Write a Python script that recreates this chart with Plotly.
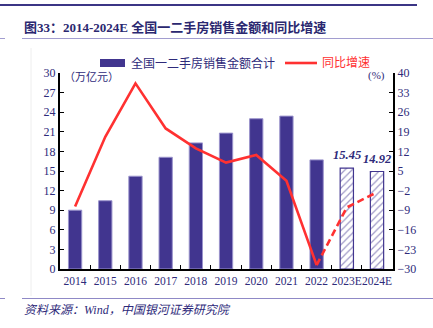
import plotly.graph_objects as go

# Data
years = ["2014", "2015", "2016", "2017", "2018", "2019", "2020", "2021", "2022", "2023E", "2024E"]
sales_amount = [9.0, 10.45, 14.2, 17.1, 19.3, 20.8, 23.0, 23.4, 16.7, 15.45, 14.92]  # 万亿元
yoy_growth = [-7.7, 17.2, 36.3, 20.2, 13.1, 8.0, 10.7, 1.5, -28.6, -8.0, -2.6]       # %
n_actual = 9  # 2014-2022 actual, the rest are estimates

left_ticks = list(range(0, 31, 3))
right_ticks = list(range(-30, 41, 7))

W, H = 433, 328
ML, MR, MT, MB = 60, 40, 73, 59
PW, PH = W - ML - MR, H - MT - MB

NAVY = "#41358f"
TEXT = "#2e2a7a"
RED = "#ff3131"
SERIF = "Times New Roman, Liberation Serif, Noto Sans CJK SC"


def px(x):
    return (x - ML) / PW


def py(y):
    return (H - MB - y) / PH


fig = go.Figure()

# Bars: solid for actual years, hatched for estimates
fig.add_trace(go.Bar(
    x=years[:n_actual], y=sales_amount[:n_actual],
    marker=dict(color=NAVY, line=dict(color="#9a93cc", width=1)),
    width=0.44, showlegend=False,
))
fig.add_trace(go.Bar(
    x=years[n_actual:], y=sales_amount[n_actual:],
    marker=dict(color="white", line=dict(color=NAVY, width=1.2),
                pattern=dict(shape="/", fgcolor=NAVY, bgcolor="white", size=5, solidity=0.25)),
    width=0.44, showlegend=False,
))

# Growth line: solid for actual, dashed for estimate
fig.add_trace(go.Scatter(
    x=years[:n_actual], y=yoy_growth[:n_actual], yaxis="y2", mode="lines",
    line=dict(color=RED, width=2.6), showlegend=False,
))
fig.add_trace(go.Scatter(
    x=years[n_actual - 1:], y=yoy_growth[n_actual - 1:], yaxis="y2", mode="lines",
    line=dict(color=RED, width=2.6, dash="7px,4px"), showlegend=False,
))

axis_font = dict(family=SERIF, size=12, color=TEXT)
fig.update_layout(
    width=W, height=H,
    margin=dict(l=ML, r=MR, t=MT, b=MB),
    paper_bgcolor="white", plot_bgcolor="white",
    bargap=0.5,
    xaxis=dict(type="category", showgrid=False, showline=True, linecolor="black", linewidth=2,
               ticks="inside", ticklen=4, tickcolor="black", tickson="boundaries",
               tickangle=0, tickfont=dict(family=SERIF, size=11.5, color=TEXT)),
    yaxis=dict(range=[0, 30], tickvals=left_ticks, showgrid=False, zeroline=False,
               showline=True, linecolor="black", linewidth=2, ticks="inside", ticklen=4,
               tickcolor="black", tickfont=axis_font),
    yaxis2=dict(range=[-30, 40], tickvals=right_ticks, overlaying="y", side="right",
                showgrid=False, zeroline=False, showline=True, linecolor="black", linewidth=2,
                ticks="inside", ticklen=4, tickcolor="black", tickfont=axis_font,
                ticktext=[str(v).replace("-", "−") for v in right_ticks]),
    font=dict(family=SERIF, color=TEXT),
)

shapes = [
    # header rule
    dict(type="line", xref="paper", yref="paper", x0=px(0), x1=px(417), y0=py(5), y1=py(5),
         line=dict(color="#3b3585", width=2)),
    # rule under title
    dict(type="line", xref="paper", yref="paper", x0=px(22), x1=px(433), y0=py(38.5), y1=py(38.5),
         line=dict(color="#a29dd0", width=1)),
    dict(type="line", xref="paper", yref="paper", x0=px(0), x1=px(5), y0=py(38.5), y1=py(38.5),
         line=dict(color="#a29dd0", width=1)),
    # rule above source
    dict(type="line", xref="paper", yref="paper", x0=px(22), x1=px(433), y0=py(298.5), y1=py(298.5),
         line=dict(color="#8f89c6", width=1)),
    dict(type="line", xref="paper", yref="paper", x0=px(0), x1=px(5), y0=py(298.5), y1=py(298.5),
         line=dict(color="#8f89c6", width=1)),
    # faint frame line
    dict(type="line", xref="paper", yref="paper", x0=px(31), x1=px(31), y0=py(48), y1=py(296),
         line=dict(color="#eeeeee", width=1)),
    # legend swatches
    dict(type="rect", xref="paper", yref="paper", x0=px(100), x1=px(125), y0=py(59), y1=py(67),
         fillcolor=NAVY, line=dict(width=0)),
    dict(type="line", xref="paper", yref="paper", x0=px(285), x1=px(317), y0=py(63), y1=py(63),
         line=dict(color=RED, width=2.6)),
]
fig.update_layout(shapes=shapes)

annotations = [
    dict(text="<b>图33：2014-2024E 全国一二手房销售金额和同比增速</b>", x=px(22), y=py(27),
         xanchor="left", yanchor="middle", font=dict(family=SERIF, size=13, color="#2b2870")),
    dict(text="全国一二手房销售金额合计", x=px(129), y=py(63), xanchor="left", yanchor="middle",
         font=dict(family=SERIF, size=12, color=TEXT)),
    dict(text="同比增速", x=px(320), y=py(63), xanchor="left", yanchor="middle",
         font=dict(family=SERIF, size=12, color=RED)),
    dict(text="（万亿元）", x=px(62), y=py(77), xanchor="left", yanchor="middle",
         font=dict(family=SERIF, size=11, color=TEXT)),
    dict(text="(%)", x=px(387), y=py(75), xanchor="right", yanchor="middle",
         font=dict(family=SERIF, size=11, color=TEXT)),
    dict(text="<i>资料来源：Wind，中国银河证券研究院</i>", x=px(22), y=py(310),
         xanchor="left", yanchor="middle", font=dict(family=SERIF, size=12, color=TEXT)),
]
for a in annotations:
    a.update(xref="paper", yref="paper", showarrow=False)

# Value labels on the estimate bars
for yr, v in zip(years[n_actual:], sales_amount[n_actual:]):
    annotations.append(dict(
        text=f"<b><i>{v:.2f}</i></b>", x=yr, y=v, xref="x", yref="y",
        xanchor="center", yanchor="bottom", yshift=4, showarrow=False,
        font=dict(family="Times New Roman, Liberation Serif", size=12.5, color=TEXT),
    ))
fig.update_layout(annotations=annotations)

fig.write_html("out.html")
